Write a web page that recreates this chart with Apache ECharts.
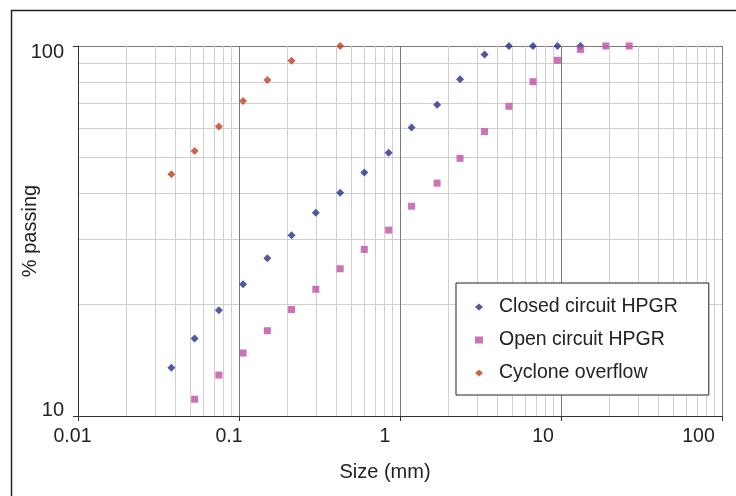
<!DOCTYPE html>
<html>
<head>
<meta charset="utf-8">
<script src="https://cdn.jsdelivr.net/npm/echarts@6/dist/echarts.min.js"></script>
<style>html,body{margin:0;padding:0;background:#fff}#c{width:736px;height:496px}</style>
</head>
<body>
<div id="c"></div>
<script>
// Data
var closedSize = [0.038,0.053,0.075,0.106,0.15,0.212,0.3,0.425,0.6,0.85,1.18,1.7,2.36,3.35,4.75,6.7,9.5,13.2];
var closedPass = [13.5,16.2,19.3,22.7,26.7,30.8,35.4,40.1,45.5,51.5,60.2,69.4,81.3,94.8,100,100,100,100];
var openSize = [0.053,0.075,0.106,0.15,0.212,0.3,0.425,0.6,0.85,1.18,1.7,2.36,3.35,4.75,6.7,9.5,13.2,19,26.5];
var openPass = [11.1,12.9,14.8,17.0,19.4,22.0,25.0,28.2,31.8,36.9,42.6,49.7,58.7,68.7,80.1,91.5,97.9,100,100];
var cycloneSize = [0.038,0.053,0.075,0.106,0.15,0.212,0.425];
var cyclonePass = [45.0,52.0,60.6,71.0,80.9,91.3,100];
var seriesNames = ['Closed circuit HPGR','Open circuit HPGR','Cyclone overflow'];
var xTickLabels = ['0.01','0.1','1','10','100'];
var yTickLabels = ['10','100'];

// label styling (horizontal nudge of each x tick label, vertical nudge of y labels)
var xLabelPad = [11, 20, 30, 36, 47];
var font = 'Liberation Sans, Arial, Helvetica, sans-serif';
var xRich = {};
xLabelPad.forEach(function(p, i){ xRich['x' + i] = {fontSize:19.5, color:'#222', fontFamily:font, padding:[0, p, 0, 0]}; });
var yRich = {
  y0:{fontSize:20, color:'#222', fontFamily:font, padding:[0,0,11,0]},
  y1:{fontSize:20, color:'#222', fontFamily:font, padding:[12,0,0,0]}
};

function pairs(xs, ys){ return xs.map(function(x,i){ return [x, ys[i]]; }); }

var chart = echarts.init(document.getElementById('c'), null, {renderer:'canvas'});
chart.setOption({
  animation:false,
  backgroundColor:'#fff',
  textStyle:{fontFamily:font},
  grid:{left:78, right:14, top:46, bottom:80, containLabel:false, outerBoundsMode:'none'},
  graphic:[{type:'rect', left:9, top:8, shape:{width:760, height:520}, style:{fill:'none', stroke:'#222', lineWidth:1.5}, silent:true}],
  xAxis:{
    type:'log', logBase:10, min:0.01, max:100,
    name:'Size (mm)', nameLocation:'middle', nameGap:46, nameMoveOverlap:false,
    nameTextStyle:{fontSize:20, color:'#222', fontFamily:font, padding:[0,30,0,0]},
    axisLine:{show:true, onZero:false, lineStyle:{color:'#333', width:1}},
    axisTick:{show:true, length:5, inside:false, lineStyle:{color:'#333'}},
    axisLabel:{fontSize:19.5, color:'#222', margin:11, fontFamily:font, rich:xRich,
      formatter:function(v){ var i = Math.round(Math.log10(v))+2; return xTickLabels[i] !== undefined ? '{x' + i + '|' + xTickLabels[i] + '}' : ''; }},
    splitLine:{show:true, lineStyle:{color:'#7a7a7a', width:1}},
    minorTick:{show:false, splitNumber:9},
    minorSplitLine:{show:true, lineStyle:{color:'#cfcfcf', width:1}}
  },
  yAxis:{
    type:'log', logBase:10, min:10, max:100,
    name:'% passing', nameLocation:'middle', nameGap:38, nameRotate:90, nameMoveOverlap:false,
    nameTextStyle:{fontSize:20, color:'#222', fontFamily:font},
    axisLine:{show:true, onZero:false, lineStyle:{color:'#333', width:1}},
    axisTick:{show:true, length:5, lineStyle:{color:'#333'}},
    axisLabel:{fontSize:20, color:'#222', margin:14, fontFamily:font, rich:yRich,
      formatter:function(v){ var i = Math.round(Math.log10(v))-1; return yTickLabels[i] !== undefined ? '{y' + i + '|' + yTickLabels[i] + '}' : ''; }},
    splitLine:{show:true, lineStyle:{color:'#7a7a7a', width:1}},
    minorTick:{show:false, splitNumber:9},
    minorSplitLine:{show:true, lineStyle:{color:'#cfcfcf', width:1}}
  },
  legend:{
    show:true, orient:'vertical', align:'left', left:456, top:283,
    padding:[14,31,12,19], itemGap:13, itemWidth:8, itemHeight:7,
    backgroundColor:'#fff', borderColor:'#222', borderWidth:1, borderRadius:0,
    textStyle:{fontSize:19.5, color:'#222', fontFamily:font, lineHeight:20, padding:[0,0,0,11]},
    data:seriesNames
  },
  series:[
    {name:seriesNames[0], type:'scatter', symbol:'diamond', symbolSize:8, clip:false,
      itemStyle:{color:'#23318a'}, data:pairs(closedSize, closedPass)},
    {name:seriesNames[1], type:'scatter', symbol:'rect', symbolSize:7, clip:false,
      itemStyle:{color:'#bf4fa3'}, data:pairs(openSize, openPass)},
    {name:seriesNames[2], type:'scatter', symbol:'diamond', symbolSize:8, clip:false,
      itemStyle:{color:'#c43d1d'}, data:pairs(cycloneSize, cyclonePass)}
  ]
});
</script>
</body>
</html>
